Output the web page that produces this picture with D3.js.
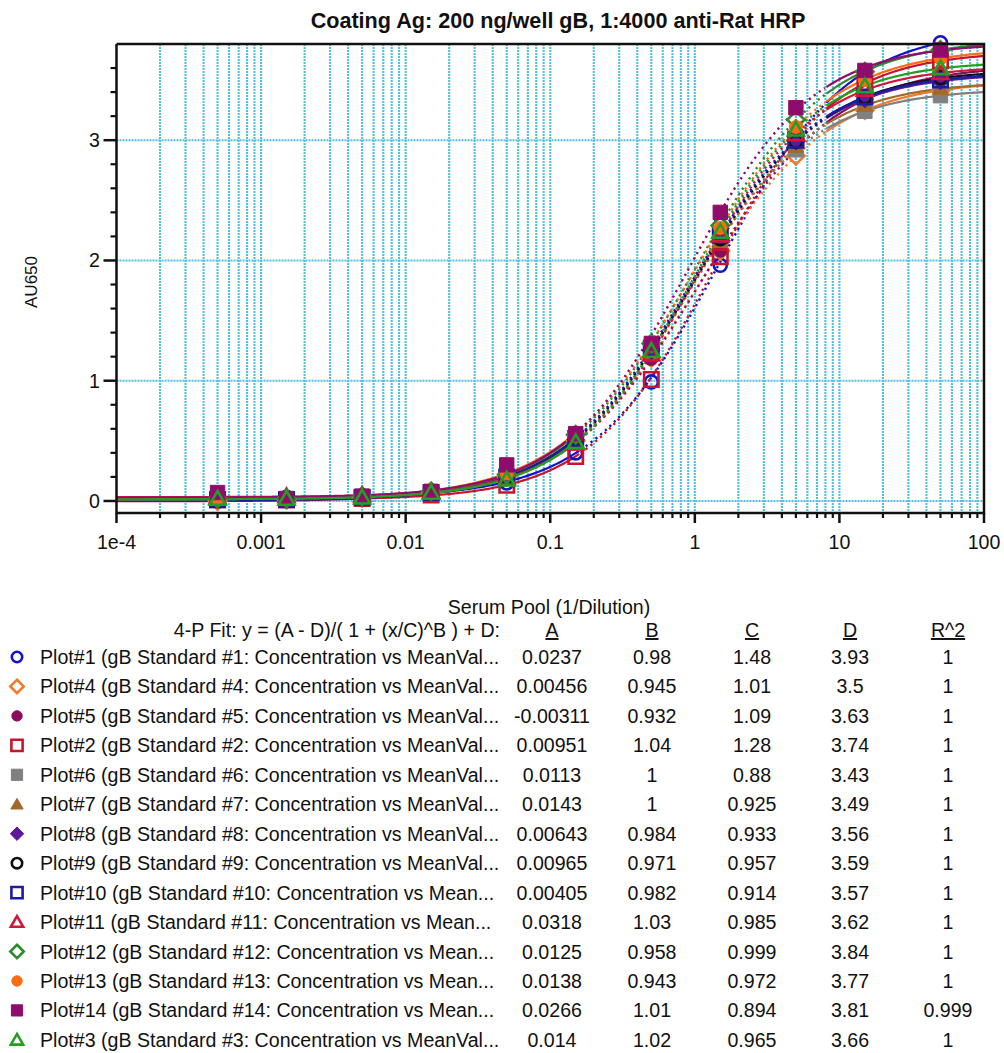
<!DOCTYPE html>
<html>
<head>
<meta charset="utf-8">
<script src="https://cdn.jsdelivr.net/npm/d3@7"></script>
<style>
  body { margin: 0; background: #fff; }
  text { font-family: Arial, "Liberation Sans", sans-serif; fill: #111; }
</style>
</head>
<body>
<svg id="chart" width="1004" height="1053"></svg>
<script>
// ---- data -------------------------------------------------------------
const titleText = "Coating Ag: 200 ng/well gB, 1:4000 anti-Rat HRP";
const xAxisTitle = "Serum Pool (1/Dilution)";
const yAxisTitle = "AU650";
const xTickValues = [1e-4, 0.001, 0.01, 0.1, 1, 10, 100];
const xTickLabels = ["1e-4", "0.001", "0.01", "0.1", "1", "10", "100"];
const yTickValues = [0, 1, 2, 3];

// serum pool concentrations (1/dilution)
const concentrations = [0.0005, 0.0015, 0.005, 0.015, 0.05, 0.15, 0.5, 1.5, 5, 15, 50];

// legend order
const plotLabels = [
  "Plot#1 (gB Standard #1: Concentration vs MeanVal...",
  "Plot#4 (gB Standard #4: Concentration vs MeanVal...",
  "Plot#5 (gB Standard #5: Concentration vs MeanVal...",
  "Plot#2 (gB Standard #2: Concentration vs MeanVal...",
  "Plot#6 (gB Standard #6: Concentration vs MeanVal...",
  "Plot#7 (gB Standard #7: Concentration vs MeanVal...",
  "Plot#8 (gB Standard #8: Concentration vs MeanVal...",
  "Plot#9 (gB Standard #9: Concentration vs MeanVal...",
  "Plot#10 (gB Standard #10: Concentration vs Mean...",
  "Plot#11 (gB Standard #11: Concentration vs Mean...",
  "Plot#12 (gB Standard #12: Concentration vs Mean...",
  "Plot#13 (gB Standard #13: Concentration vs Mean...",
  "Plot#14 (gB Standard #14: Concentration vs Mean...",
  "Plot#3 (gB Standard #3: Concentration vs MeanVal..."
];

// 4-parameter logistic fit results
const fitA  = [0.0237, 0.00456, -0.00311, 0.00951, 0.0113, 0.0143, 0.00643, 0.00965, 0.00405, 0.0318, 0.0125, 0.0138, 0.0266, 0.014];
const fitB  = [0.98, 0.945, 0.932, 1.04, 1, 1, 0.984, 0.971, 0.982, 1.03, 0.958, 0.943, 1.01, 1.02];
const fitC  = [1.48, 1.01, 1.09, 1.28, 0.88, 0.925, 0.933, 0.957, 0.914, 0.985, 0.999, 0.972, 0.894, 0.965];
const fitD  = [3.93, 3.5, 3.63, 3.74, 3.43, 3.49, 3.56, 3.59, 3.57, 3.62, 3.84, 3.77, 3.81, 3.66];
const fitR2 = [1, 1, 1, 1, 1, 1, 1, 1, 1, 1, 1, 1, 0.999, 1];

// mean AU650 readings at each concentration
const meanPlot1  = [0.02, 0.03, 0.04, 0.07, 0.15, 0.40, 0.99, 1.96, 3.02, 3.57, 3.81];
const meanPlot4  = [0.00, 0.01, 0.03, 0.07, 0.20, 0.50, 1.19, 2.08, 2.87, 3.25, 3.41];
const meanPlot5  = [0.00, 0.00, 0.02, 0.06, 0.19, 0.49, 1.18, 2.08, 2.92, 3.34, 3.53];
const meanPlot2  = [0.01, 0.01, 0.02, 0.05, 0.13, 0.37, 1.01, 2.03, 3.01, 3.47, 3.66];
const meanPlot6  = [0.01, 0.02, 0.03, 0.07, 0.20, 0.51, 1.25, 2.17, 2.92, 3.24, 3.37];
const meanPlot7  = [0.02, 0.02, 0.03, 0.07, 0.19, 0.50, 1.23, 2.16, 2.95, 3.29, 3.43];
const meanPlot8  = [0.01, 0.01, 0.03, 0.07, 0.20, 0.51, 1.25, 2.19, 2.99, 3.34, 3.49];
const meanPlot9  = [0.01, 0.02, 0.03, 0.07, 0.20, 0.52, 1.25, 2.18, 2.99, 3.36, 3.52];
const meanPlot10 = [0.01, 0.01, 0.03, 0.07, 0.20, 0.52, 1.27, 2.21, 3.00, 3.36, 3.50];
const meanPlot11 = [0.03, 0.04, 0.05, 0.08, 0.19, 0.48, 1.22, 2.21, 3.05, 3.42, 3.56];
const meanPlot12 = [0.02, 0.02, 0.04, 0.08, 0.22, 0.55, 1.31, 2.29, 3.17, 3.57, 3.75];
const meanPlot13 = [0.02, 0.02, 0.04, 0.09, 0.23, 0.56, 1.32, 2.27, 3.11, 3.50, 3.68];
const meanPlot14 = [0.07, 0.02, 0.04, 0.08, 0.30, 0.56, 1.31, 2.40, 3.27, 3.58, 3.75];
const meanPlot3  = [0.02, 0.02, 0.03, 0.07, 0.18, 0.49, 1.25, 2.24, 3.09, 3.45, 3.60];
const meanValues = [meanPlot1, meanPlot4, meanPlot5, meanPlot2, meanPlot6, meanPlot7, meanPlot8,
                    meanPlot9, meanPlot10, meanPlot11, meanPlot12, meanPlot13, meanPlot14, meanPlot3];

// ---- styles -----------------------------------------------------------
const plotColors = ["#1515c8", "#f07a2e", "#8c0c5c", "#c8142c", "#808080", "#a3692c", "#5e1a9a",
                    "#111111", "#1c1ca0", "#d0183a", "#2e8a2e", "#ff6a14", "#900c6c", "#22a022"];
const plotShapes = ["circle", "diamond", "circle", "square", "square", "triangle", "diamond",
                    "circle", "square", "triangle", "diamond", "circle", "square", "triangle"];
const plotFilled = [false, false, true, false, true, true, true, false, false, false, false, true, true, false];

const gridColor = "#52c0dc";
const fontSize = "19.6px";

// ---- layout -----------------------------------------------------------
const svg = d3.select("#chart");
const plotLeft = 116.5, plotRight = 984, plotTop = 44, plotBottom = 513;

const x = d3.scaleLog().domain([1e-4, 100]).range([plotLeft, plotRight]);
const y = d3.scaleLinear().domain([-0.1, 3.8]).range([plotBottom, plotTop]);

function markerPath(shape, s) {
  if (shape === "circle") {
    return d3.arc()({innerRadius: 0, outerRadius: s, startAngle: 0, endAngle: 2 * Math.PI});
  }
  if (shape === "square") {
    return `M${-s},${-s}H${s}V${s}H${-s}Z`;
  }
  if (shape === "diamond") {
    const h = s * 1.2;
    return `M0,${-h}L${h},0L0,${h}L${-h},0Z`;
  }
  // triangle
  const w = s * 1.1, hUp = s * 1.05, hDn = s * 0.85;
  return `M0,${-hUp}L${w},${hDn}L${-w},${hDn}Z`;
}

// title
svg.append("text")
  .attr("x", 558).attr("y", 28)
  .attr("text-anchor", "middle")
  .style("font-size", "21.6px").style("font-weight", "bold")
  .text(titleText);

// clip region for the plot area
svg.append("defs").append("clipPath").attr("id", "plot-clip")
  .append("rect")
  .attr("x", plotLeft).attr("y", plotTop)
  .attr("width", plotRight - plotLeft).attr("height", plotBottom - plotTop);

// ---- grid -------------------------------------------------------------
const logTicks = [];
for (let e = -4; e <= 1; e++) {
  for (let m = 1; m <= 9; m++) logTicks.push(m * Math.pow(10, e));
}
logTicks.push(100);
const gridX = logTicks.filter(v => v > 1e-4 * 1.001 && v < 100 * 0.999);

const grid = svg.append("g");
grid.selectAll("line.vgrid").data(gridX).join("line")
  .attr("class", "vgrid")
  .attr("x1", d => x(d)).attr("x2", d => x(d))
  .attr("y1", plotTop).attr("y2", plotBottom)
  .attr("stroke", gridColor).attr("stroke-width", 2.1)
  .attr("stroke-dasharray", "2,1");
grid.selectAll("line.hgrid").data(yTickValues).join("line")
  .attr("class", "hgrid")
  .attr("x1", plotLeft).attr("x2", plotRight)
  .attr("y1", d => y(d)).attr("y2", d => y(d))
  .attr("stroke", gridColor).attr("stroke-width", 2.1)
  .attr("stroke-dasharray", "2,1");

// ---- fitted curves ------------------------------------------------------
function fourPL(xv, i) {
  return (fitA[i] - fitD[i]) / (1 + Math.pow(xv / fitC[i], fitB[i])) + fitD[i];
}
const curveLine = d3.line().x(d => x(d[0])).y(d => y(d[1]));
const samples = d3.range(0, 601).map(k => Math.pow(10, -4 + 6 * k / 600));
const dotLow = 0.16, dotHigh = 8;

const curves = svg.append("g").attr("clip-path", "url(#plot-clip)");
plotLabels.forEach((_, i) => {
  const pts = samples.map(v => [v, fourPL(v, i)]);
  const lowPart = pts.filter(p => p[0] <= dotLow);
  const midPart = pts.filter(p => p[0] >= dotLow && p[0] <= dotHigh);
  const highPart = pts.filter(p => p[0] >= dotHigh);
  [lowPart, highPart].forEach(part => {
    curves.append("path").attr("d", curveLine(part))
      .attr("fill", "none").attr("stroke", plotColors[i]).attr("stroke-width", 2.2);
  });
  curves.append("path").attr("d", curveLine(midPart))
    .attr("fill", "none").attr("stroke", plotColors[i]).attr("stroke-width", 2.4)
    .attr("stroke-dasharray", "2.2,4");
});

// ---- data markers -------------------------------------------------------
const markers = svg.append("g");
plotLabels.forEach((_, i) => {
  markers.append("g").selectAll("path")
    .data(concentrations.map((c, k) => [c, meanValues[i][k]]))
    .join("path")
    .attr("transform", d => `translate(${x(d[0])},${y(d[1])})`)
    .attr("d", markerPath(plotShapes[i], plotShapes[i] === "circle" ? 6.5 : 7.2))
    .attr("fill", plotFilled[i] ? plotColors[i] : "none")
    .attr("stroke", plotColors[i])
    .attr("stroke-width", plotFilled[i] ? 1 : 2.6);
});

// ---- axes ---------------------------------------------------------------
const axisColor = "#111";
const axes = svg.append("g");

// frame: left, bottom, top, right
axes.append("path")
  .attr("d", `M${plotLeft},${plotTop}V${plotBottom}H${plotRight}V${plotTop}H${plotLeft}`)
  .attr("fill", "none").attr("stroke", axisColor).attr("stroke-width", 2.5);

// x ticks
const xMinor = logTicks.filter(v => !xTickValues.some(t => Math.abs(t - v) / t < 1e-6));
axes.selectAll("line.xmaj").data(xTickValues).join("line")
  .attr("x1", d => x(d)).attr("x2", d => x(d))
  .attr("y1", plotBottom).attr("y2", plotBottom + 10)
  .attr("stroke", axisColor).attr("stroke-width", 2.5);
axes.selectAll("line.xmin").data(xMinor).join("line")
  .attr("x1", d => x(d)).attr("x2", d => x(d))
  .attr("y1", plotBottom).attr("y2", plotBottom + 5)
  .attr("stroke", axisColor).attr("stroke-width", 2.2);
axes.selectAll("text.xlab").data(xTickValues).join("text")
  .attr("x", d => x(d)).attr("y", 549)
  .attr("text-anchor", "middle")
  .style("font-size", fontSize)
  .text((d, k) => xTickLabels[k]);

// y ticks
const yMinor = d3.range(0, 19).map(k => +(k * 0.2).toFixed(1)).filter(v => Math.abs(v - Math.round(v)) > 1e-6);
axes.selectAll("line.ymaj").data(yTickValues).join("line")
  .attr("x1", plotLeft - 13).attr("x2", plotLeft)
  .attr("y1", d => y(d)).attr("y2", d => y(d))
  .attr("stroke", axisColor).attr("stroke-width", 2.5);
axes.selectAll("line.ymin").data(yMinor).join("line")
  .attr("x1", plotLeft - 6).attr("x2", plotLeft)
  .attr("y1", d => y(d)).attr("y2", d => y(d))
  .attr("stroke", axisColor).attr("stroke-width", 2.2);
axes.selectAll("text.ylab").data(yTickValues).join("text")
  .attr("x", 100).attr("y", d => y(d) + 7)
  .attr("text-anchor", "end")
  .style("font-size", fontSize)
  .text(d => d);

// axis titles
svg.append("text")
  .attr("x", 549).attr("y", 614)
  .attr("text-anchor", "middle")
  .style("font-size", fontSize)
  .text(xAxisTitle);
svg.append("text")
  .attr("transform", "translate(37,282) rotate(-90)")
  .attr("text-anchor", "middle")
  .style("font-size", "17px")
  .text(yAxisTitle);

// ---- fit table / legend -------------------------------------------------
const table = svg.append("g");
const colX = [552, 652, 752, 850, 948];
const headerY = 637;
const rowY0 = 664, rowStep = 29.45;

table.append("text")
  .attr("x", 500).attr("y", headerY)
  .attr("text-anchor", "end")
  .style("font-size", fontSize)
  .text("4-P Fit: y = (A - D)/( 1 + (x/C)^B ) + D:");
["A", "B", "C", "D", "R^2"].forEach((h, k) => {
  table.append("text")
    .attr("x", colX[k]).attr("y", headerY)
    .attr("text-anchor", "middle")
    .style("font-size", fontSize)
    .style("text-decoration", "underline")
    .text(h);
});

plotLabels.forEach((label, i) => {
  const ry = rowY0 + i * rowStep;
  table.append("path")
    .attr("transform", `translate(17,${ry - 7})`)
    .attr("d", markerPath(plotShapes[i], plotShapes[i] === "circle" ? 5.2 : 5.6))
    .attr("fill", plotFilled[i] ? plotColors[i] : "none")
    .attr("stroke", plotColors[i])
    .attr("stroke-width", plotFilled[i] ? 1 : 2.6);
  table.append("text")
    .attr("x", 40).attr("y", ry)
    .style("font-size", fontSize)
    .text(label);
  [fitA[i], fitB[i], fitC[i], fitD[i], fitR2[i]].forEach((v, k) => {
    table.append("text")
      .attr("x", colX[k]).attr("y", ry)
      .attr("text-anchor", "middle")
      .style("font-size", fontSize)
      .text(String(v));
  });
});
</script>
</body>
</html>
